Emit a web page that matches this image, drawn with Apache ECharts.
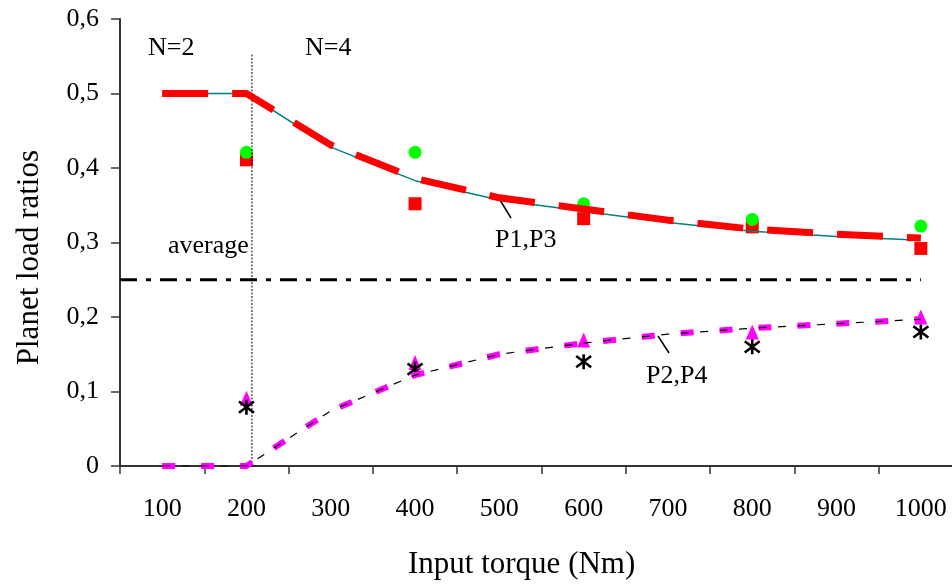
<!DOCTYPE html>
<html>
<head>
<meta charset="utf-8">
<script src="https://cdn.jsdelivr.net/npm/echarts@6/dist/echarts.min.js"></script>
<style>
    html, body { margin: 0; padding: 0; background: #fff; }
    #chart { width: 952px; height: 587px; }
</style>
</head>
<body>
<div id="chart"></div>
<script>
// curves (every 100 Nm)
const torque = [100, 200, 300, 400, 500, 600, 700, 800, 900, 1000];
const p13Dashed = [0.5, 0.5, 0.431, 0.386, 0.360, 0.345, 0.330, 0.318, 0.311, 0.306];
const p13Thin = [0.5, 0.5, 0.428, 0.383, 0.357, 0.342, 0.327, 0.315, 0.308, 0.303];
const p24Dashed = [0, 0, 0.074, 0.122, 0.150, 0.165, 0.177, 0.185, 0.191, 0.197];
const p24Thin = [0, 0, 0.074, 0.122, 0.150, 0.165, 0.177, 0.185, 0.191, 0.197];

// measured points
const torqueTest = [200, 400, 600, 800, 1000];
const p1Test = [0.421, 0.421, 0.352, 0.331, 0.322];
const p3Test = [0.411, 0.352, 0.332, 0.321, 0.292];
const p2Test = [0.091, 0.139, 0.169, 0.180, 0.200];
const p4Test = [0.079, 0.130, 0.140, 0.160, 0.180];

// average and N=2 / N=4 divider
const averageX = [50, 1000];
const averageY = [0.25, 0.25];
const dividerX = [206.5, 206.5];
const dividerY = [0, 0.554];

const font = "'Liberation Serif', 'Times New Roman', serif";
const axisColor = "#333";

const pairs = (xs, ys) => xs.map((x, i) => [x, ys[i]]);

// X with a vertical bar, like the excel star marker
const asterisk = "path://M0,-10 L0,10 M-7.5,-7.5 L7.5,7.5 M-7.5,7.5 L7.5,-7.5";

const option = {
    animation: false,
    backgroundColor: "#fff",
    grid: {
        left: 120,
        top: 19,
        right: -11,
        bottom: 121,
        outerBoundsMode: "none",
    },
    xAxis: [
        {
            type: "value",
            min: 50,
            max: 1050,
            interval: 100,
            position: "bottom",
            axisLine: { lineStyle: { color: axisColor, width: 2 } },
            axisTick: { show: true, length: 8, lineStyle: { color: axisColor, width: 1.5 } },
            axisLabel: { show: false },
            splitLine: { show: false },
        },
        {
            // labels only, sit between the ticks
            type: "value",
            min: 50,
            max: 1050,
            interval: 50,
            position: "bottom",
            axisLine: { show: false },
            axisTick: { show: false },
            splitLine: { show: false },
            axisLabel: {
                margin: 30,
                color: "#000",
                fontFamily: font,
                fontSize: 26,
                formatter: (v) => (v % 100 === 0 && v <= 1000 ? String(v) : ""),
            },
        },
    ],
    yAxis: {
        type: "value",
        min: 0,
        max: 0.6,
        interval: 0.1,
        axisLine: { show: true, lineStyle: { color: axisColor, width: 2 } },
        axisTick: { show: true, length: 9, lineStyle: { color: axisColor, width: 1.5 } },
        splitLine: { show: false },
        axisLabel: {
            margin: 21,
            color: "#000",
            fontFamily: font,
            fontSize: 26,
            formatter: (v) => (v === 0 ? "0" : v.toFixed(1).replace(".", ",")),
        },
    },
    graphic: [
        { type: "text", left: 148, top: 35, style: { text: "N=2", font: `26px ${font}`, fill: "#000" } },
        { type: "text", left: 305, top: 35, style: { text: "N=4", font: `26px ${font}`, fill: "#000" } },
        { type: "text", left: 168, top: 233, style: { text: "average", font: `26px ${font}`, fill: "#000" } },
        { type: "text", left: 495, top: 227, style: { text: "P1,P3", font: `26px ${font}`, fill: "#000" } },
        { type: "text", left: 646, top: 363, style: { text: "P2,P4", font: `26px ${font}`, fill: "#000" } },
        { type: "line", shape: { x1: 500, y1: 200, x2: 511, y2: 218 }, style: { stroke: "#000", lineWidth: 1.5 } },
        { type: "line", shape: { x1: 658, y1: 336, x2: 669, y2: 353 }, style: { stroke: "#000", lineWidth: 1.5 } },
        {
            type: "text",
            left: 408,
            top: 549,
            style: { text: "Input torque (Nm)", font: `31px ${font}`, fill: "#000" },
        },
        {
            type: "text",
            left: 14,
            top: 150,
            rotation: Math.PI / 2,
            style: { text: "Planet load ratios", font: `31px ${font}`, fill: "#000" },
        },
    ],
    series: [
        {
            name: "average",
            type: "line",
            data: pairs(averageX, averageY),
            showSymbol: false,
            lineStyle: { color: "#000", width: 3, type: [17, 9, 5, 9] },
        },
        {
            name: "divider",
            type: "line",
            data: pairs(dividerX, dividerY),
            showSymbol: false,
            lineStyle: { color: "#000", width: 1, type: [2, 1.5] },
        },
        {
            name: "P1,P3 thin",
            type: "line",
            data: pairs(torque, p13Thin),
            showSymbol: false,
            lineStyle: { color: "#008080", width: 1.5 },
        },
        {
            name: "P1,P3",
            type: "line",
            data: pairs(torque, p13Dashed),
            showSymbol: false,
            lineStyle: { color: "#ff0000", width: 7, type: [46, 24], cap: "butt" },
        },
        {
            name: "P2,P4",
            type: "line",
            data: pairs(torque, p24Dashed),
            showSymbol: false,
            lineStyle: { color: "#ff00ff", width: 6, type: [13, 26], cap: "butt" },
        },
        {
            name: "P2,P4 thin",
            type: "line",
            data: pairs(torque, p24Thin),
            showSymbol: false,
            lineStyle: { color: "#000", width: 1.2, type: [8, 11.5] },
        },
        {
            name: "P3 test",
            type: "scatter",
            data: pairs(torqueTest, p3Test),
            symbol: "rect",
            symbolSize: 13,
            itemStyle: { color: "#ff0000", opacity: 1 },
        },
        {
            name: "P1 test",
            type: "scatter",
            data: pairs(torqueTest, p1Test),
            symbol: "circle",
            symbolSize: 13,
            itemStyle: { color: "#00ff00", opacity: 1 },
        },
        {
            name: "P2 test",
            type: "scatter",
            data: pairs(torqueTest, p2Test),
            symbol: "triangle",
            symbolSize: [13, 15],
            itemStyle: { color: "#ff00ff", opacity: 1 },
        },
        {
            name: "P4 test",
            type: "scatter",
            data: pairs(torqueTest, p4Test),
            symbol: asterisk,
            symbolSize: 15,
            itemStyle: { color: "rgba(0,0,0,0)", borderColor: "#000", borderWidth: 2.6, opacity: 1 },
        },
    ],
};

const chart = echarts.init(document.getElementById("chart"));
chart.setOption(option);
</script>
</body>
</html>
